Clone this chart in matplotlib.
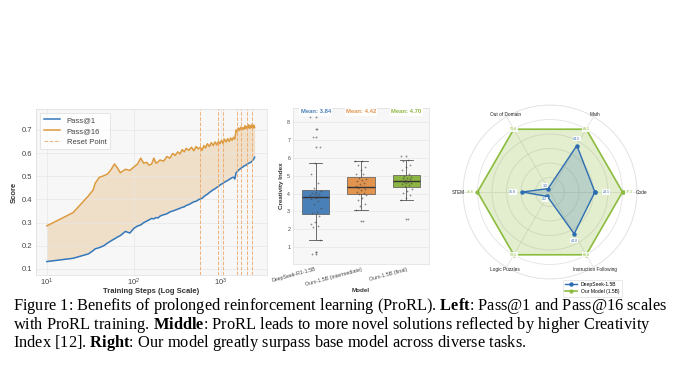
import numpy as np
import matplotlib
matplotlib.use("Agg")
import matplotlib.pyplot as plt
import matplotlib.transforms as mtransforms

plt.rcParams['font.family'] = ['Liberation Sans', 'DejaVu Sans']
plt.rcParams['mathtext.fontset'] = 'custom'
plt.rcParams['mathtext.rm'] = 'Liberation Serif'
plt.rcParams['mathtext.bf'] = 'Liberation Serif:bold'

# ---- left panel data: Pass@k vs training steps ----
steps = [10, 20, 30, 34, 36, 40, 45, 50, 55, 60, 65, 70, 80, 90, 100, 110, 120, 130,
         140, 150, 160, 170, 180, 190, 200, 220, 240, 260, 280, 300, 320, 340, 360,
         380, 400, 430, 460, 490, 520, 550, 580, 610, 640, 670, 700, 740, 780, 820,
         860, 900, 940, 980, 1020, 1060, 1100, 1150, 1200, 1250, 1300, 1350, 1400,
         1450, 1500, 1550, 1600, 1650, 1700, 1750, 1800, 1850, 1900, 1950, 2000,
         2050, 2100, 2150, 2200, 2250, 2300, 2350, 2400, 2450]
pass1 = [0.132, 0.146, 0.165, 0.179, 0.187, 0.192, 0.200, 0.212, 0.222, 0.230, 0.238,
         0.244, 0.262, 0.255, 0.275, 0.285, 0.290, 0.300, 0.306, 0.312, 0.318, 0.316,
         0.322, 0.320, 0.328, 0.334, 0.338, 0.346, 0.350, 0.354, 0.358, 0.362, 0.366,
         0.368, 0.374, 0.378, 0.384, 0.390, 0.392, 0.398, 0.402, 0.405, 0.412, 0.418,
         0.422, 0.430, 0.436, 0.442, 0.446, 0.452, 0.456, 0.462, 0.466, 0.470, 0.474,
         0.478, 0.482, 0.486, 0.490, 0.494, 0.496, 0.488, 0.515, 0.520, 0.526, 0.530,
         0.534, 0.538, 0.540, 0.544, 0.546, 0.548, 0.552, 0.554, 0.556, 0.558, 0.560,
         0.562, 0.566, 0.570, 0.575, 0.582]
pass16 = [0.286, 0.343, 0.415, 0.440, 0.470, 0.495, 0.502, 0.510, 0.530, 0.553, 0.535,
          0.515, 0.530, 0.525, 0.540, 0.552, 0.578, 0.556, 0.560, 0.548, 0.552, 0.578,
          0.556, 0.562, 0.570, 0.565, 0.585, 0.578, 0.598, 0.590, 0.605, 0.596, 0.615,
          0.605, 0.620, 0.612, 0.625, 0.610, 0.628, 0.618, 0.625, 0.612, 0.632, 0.622,
          0.640, 0.628, 0.645, 0.632, 0.648, 0.635, 0.650, 0.640, 0.655, 0.642, 0.660,
          0.648, 0.662, 0.650, 0.665, 0.655, 0.668, 0.660, 0.700, 0.692, 0.708, 0.698,
          0.712, 0.700, 0.710, 0.702, 0.718, 0.705, 0.715, 0.708, 0.722, 0.706, 0.718,
          0.710, 0.725, 0.708, 0.720, 0.710]
reset_points = [580, 920, 1060, 1520, 1720, 2000, 2300]

# ---- middle panel data: creativity index ----
model_names = ['DeepSeek-R1-1.5B', 'Ours-1.5B (intermediate)', 'Ours-1.5B (final)']
creativity_base = [8.3, 7.6, 7.2, 6.6, 5.7, 5.1, 4.6, 4.3, 4.15, 4.1, 4.05, 4.0, 3.95,
                   3.9, 3.85, 3.82, 3.8, 3.75, 3.7, 3.6, 3.4, 3.2, 2.95, 2.9, 2.75,
                   2.4, 2.3, 2.2, 2.1, 1.4, 0.75, 0.6]
creativity_mid = [5.85, 5.8, 5.6, 5.5, 5.3, 5.1, 5.1, 4.9, 4.8, 4.75, 4.7, 4.6, 4.55,
                  4.4, 4.35, 4.3, 4.25, 4.2, 4.1, 4.05, 4.0, 3.9, 3.75, 3.65, 3.4,
                  3.3, 3.1, 2.45]
creativity_final = [6.1, 5.9, 5.85, 5.6, 5.5, 5.3, 5.1, 5.0, 4.95, 4.9, 4.85, 4.8,
                    4.75, 4.7, 4.66, 4.65, 4.62, 4.6, 4.55, 4.5, 4.42, 4.28, 4.15,
                    4.05, 3.9, 3.75, 3.65, 2.55]

# ---- right panel data: radar ----
tasks = ['Code', 'Math', 'Out of Domain', 'STEM', 'Logic Puzzles', 'Instruction Following']
deepseek_scores = [23.1, 44.5, 3.2, 15.9, 4.2, 44.0]
ours_scores = [37.3, 60.1, 59.8, 41.6, 59.1, 66.0]

caption_lines = [
    r"Figure 1: Benefits of prolonged reinforcement learning (ProRL). $\mathbf{Left}$: Pass@1 and Pass@16 scales",
    r"with ProRL training. $\mathbf{Middle}$: ProRL leads to more novel solutions reflected by higher Creativity",
    r"Index [12]. $\mathbf{Right}$: Our model greatly surpass base model across diverse tasks.",
]

blue = '#3478bd'
orange = '#dc9a3e'
green = '#8cbc3f'
face = '#f7f7f7'
gridc = '#e6e6e6'

W, H = 678, 381
fig = plt.figure(figsize=(W / 100, H / 100), dpi=100)


def rect(x0, y0, x1, y1):
    return [x0 / W, 1 - y1 / H, (x1 - x0) / W, (y1 - y0) / H]


# %% left panel
ax1 = fig.add_axes(rect(36, 109, 267, 275))
ax1.set_facecolor(face)
ax1.plot(steps, pass1, color=blue, lw=1.1, label='Pass@1')
ax1.plot(steps, pass16, color=orange, lw=1.1, label='Pass@16')
ax1.fill_between(steps, pass1, pass16, color=orange, alpha=0.25, lw=0)
for i, r in enumerate(reset_points):
    ax1.axvline(r, color='#eea564', ls='--', lw=0.7, alpha=0.85,
                label='Reset Point' if i == 0 else None)
ax1.set_xscale('log')
ax1.set_xlim(7.5, 3400)
ax1.set_ylim(0.074, 0.79)
ax1.set_yticks([0.1, 0.2, 0.3, 0.4, 0.5, 0.6, 0.7])
ax1.grid(True, which='major', color=gridc, lw=0.5)
ax1.tick_params(labelsize=5.5, length=0, colors='#444444', pad=1.5, which='both')
ax1.tick_params(axis='y', pad=2.5)
ax1.set_xlabel('Training Steps (Log Scale)', fontsize=5.5, fontweight='bold', color='#333333', labelpad=0)
ax1.set_ylabel('Score', fontsize=5.5, fontweight='bold', color='#333333', labelpad=3)
for s in ax1.spines.values():
    s.set_color('#dddddd')
    s.set_linewidth(0.5)
leg1 = ax1.legend(loc='upper left', fontsize=5.5, frameon=True, handlelength=2.2,
                  borderpad=0.5, labelspacing=0.45, fancybox=True)
leg1.get_frame().set_linewidth(0.4)
leg1.get_frame().set_edgecolor('#cccccc')
for t in leg1.get_texts():
    t.set_color('#444444')

# %% middle panel
ax2 = fig.add_axes(rect(293, 108, 429, 264))
ax2.set_facecolor(face)
groups = [creativity_base, creativity_mid, creativity_final]
box_colors = ['#4a80b8', '#e2944f', '#8db543']
bp = ax2.boxplot(groups, positions=[0, 1, 2], widths=0.6, patch_artist=True,
                 capwidths=0.3,
                 medianprops=dict(color='#333333', lw=1.0),
                 whiskerprops=dict(color='#555555', lw=0.6),
                 capprops=dict(color='#555555', lw=0.6),
                 boxprops=dict(edgecolor='#555555', lw=0.5),
                 flierprops=dict(marker='o', ms=1.4, mfc='#777777', mec='none', alpha=0.8))
for patch, c in zip(bp['boxes'], box_colors):
    patch.set_facecolor(c)
for i, g in enumerate(groups):
    n = len(g)
    jit = (((np.arange(n) * 0.618) % 1.0) - 0.5) * 0.25
    ax2.scatter(i + jit, g, s=1.6, color='#444444', alpha=0.6, zorder=3, lw=0)
    ax2.text(i, 0.975, f'Mean: {np.mean(g):.2f}',
             transform=mtransforms.blended_transform_factory(ax2.transData, ax2.transAxes),
             ha='center', va='center', fontsize=4.2, fontweight='bold', color=box_colors[i],
             bbox=dict(facecolor='white', edgecolor='none', pad=0.8))
ax2.set_xlim(-0.5, 2.5)
ax2.set_ylim(0.05, 8.8)
ax2.set_yticks([1, 2, 3, 4, 5, 6, 7, 8])
ax2.set_xticks([0, 1, 2])
ax2.set_xticklabels(model_names, rotation=15, ha='right', rotation_mode='anchor')
ax2.grid(True, axis='y', color=gridc, lw=0.5)
ax2.set_axisbelow(True)
ax2.tick_params(labelsize=3.8, length=0, colors='#444444', pad=2)
ax2.set_xlabel('Model', fontsize=4.5, fontweight='bold', color='#333333', labelpad=1)
ax2.set_ylabel('Creativity Index', fontsize=4.5, fontweight='bold', color='#333333', labelpad=2)
for s in ax2.spines.values():
    s.set_color('#dddddd')
    s.set_linewidth(0.5)

# %% right panel (radar)
ax3 = fig.add_axes(rect(463, 105, 637, 279), polar=True)
angles = np.deg2rad(np.arange(len(tasks)) * 60.0)
ours_norm = np.array(ours_scores) / np.array(ours_scores)
ds_norm = np.array(deepseek_scores) / np.array(ours_scores)
closed = np.append(angles, angles[0])
ax3.plot(closed, np.append(ds_norm, ds_norm[0]), color='#2f6db2', lw=1.0, marker='o', ms=2.2,
         label='DeepSeek-1.5B', zorder=4)
ax3.fill(closed, np.append(ds_norm, ds_norm[0]), color='#2f6db2', alpha=0.22, lw=0, zorder=3)
ax3.plot(closed, np.append(ours_norm, ours_norm[0]), color=green, lw=1.2, marker='o', ms=2.0,
         label='Our Model (1.5B)', zorder=4)
ax3.fill(closed, np.append(ours_norm, ours_norm[0]), color=green, alpha=0.25, lw=0, zorder=2)
ax3.set_ylim(0, 1.2)
ax3.set_yticks([0.2, 0.4, 0.6, 0.8, 1.0, 1.2])
ax3.set_yticklabels([])
ax3.set_xticks(angles)
ax3.set_xticklabels([])
ax3.tick_params(length=0)
ax3.grid(True, color='#e3e3e3', lw=0.6)
ax3.spines['polar'].set_color('#e3e3e3')
ax3.spines['polar'].set_linewidth(0.6)

green_off = [(5, 0), (0, 0), (0, 0), (-5, 0), (0, 0), (0, 0)]
blue_off = [(8, 0), (0, 5), (-2, 2), (-7, 0), (-2, -2), (0, -5)]
for a, name, d, o, ds_val, go, bo in zip(angles, tasks, ds_norm, ours_scores,
                                          deepseek_scores, green_off, blue_off):
    c = np.cos(a)
    if c > 0.9:
        ax3.text(a, 1.18, name, ha='left', va='center', fontsize=3.4, color='#222222')
    elif c < -0.9:
        ax3.text(a, 1.18, name, ha='right', va='center', fontsize=3.4, color='#222222')
    else:
        ax3.text(a, 1.24, name, ha='center', va='center', fontsize=3.4, color='#222222')
    ax3.annotate(f'{o:.1f}', (a, 1.0), xytext=go, textcoords='offset points', ha='center',
                 va='center', fontsize=2.6, color=green, zorder=6,
                 bbox=dict(facecolor='white', edgecolor='none', pad=0.4, alpha=0.9))
    ax3.annotate(f'{ds_val:.1f}', (a, d), xytext=bo, textcoords='offset points', ha='center',
                 va='center', fontsize=2.6, color='#2f6db2', zorder=6,
                 bbox=dict(facecolor='white', edgecolor='none', pad=0.4, alpha=0.9))

leg3 = ax3.legend(loc='upper left', bbox_to_anchor=(560 / W, 1 - 277 / H),
                  bbox_transform=fig.transFigure, fontsize=3.6, frameon=True,
                  handlelength=2.4, borderpad=0.5, labelspacing=0.4)
leg3.get_frame().set_linewidth(0.4)
leg3.get_frame().set_edgecolor('#cccccc')

# %% caption
for i, line in enumerate(caption_lines):
    fig.text(13 / W, 1 - (306 + i * 18.6) / H, line, fontsize=11.75, family='Liberation Serif',
             ha='left', va='center', color='black')

fig.savefig('out.png', dpi=100)
